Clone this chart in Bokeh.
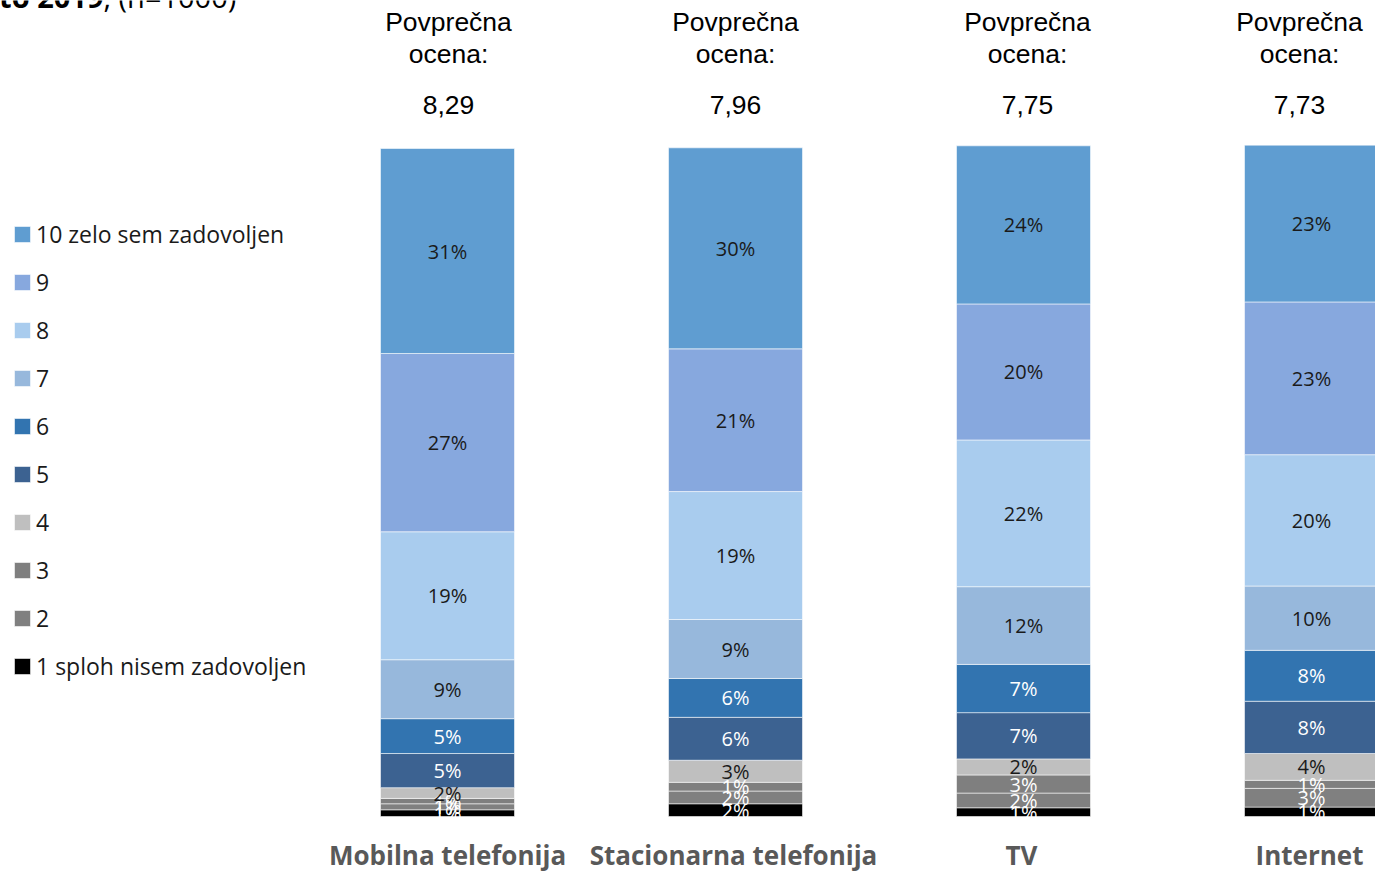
from bokeh.plotting import figure
from bokeh.models import Range1d, ColumnDataSource, Legend, LegendItem
from bokeh.core.properties import value
from bokeh.embed import file_html
from bokeh.resources import INLINE

# ---------------- data ----------------
categories = ["Mobilna telefonija", "Stacionarna telefonija", "TV", "Internet"]
average_scores = ["8,29", "7,96", "7,75", "7,73"]
levels = ["1", "2", "3", "4", "5", "6", "7", "8", "9", "10"]
legend_labels = ["1 sploh nisem zadovoljen", "2", "3", "4", "5", "6", "7", "8", "9",
                 "10 zelo sem zadovoljen"]

share_1 = [1.0, 1.9, 1.3, 1.4]
share_2 = [0.9, 1.9, 2.2, 2.8]
share_3 = [0.8, 1.3, 2.7, 1.2]
share_4 = [1.6, 3.3, 2.4, 4.0]
share_5 = [5.1, 6.4, 6.9, 7.8]
share_6 = [5.2, 5.8, 7.2, 7.6]
share_7 = [8.8, 8.8, 11.6, 9.6]
share_8 = [19.1, 19.1, 21.9, 19.6]
share_9 = [26.6, 21.3, 20.3, 22.8]
share_10 = [30.6, 30.0, 23.6, 23.4]
shares = [share_1, share_2, share_3, share_4, share_5, share_6, share_7, share_8, share_9, share_10]

title_bold = "leto 2019"
title_rest = ", (n=1000)"
header_lines = ["Povprečna", "ocena:"]

# ---------------- styles / layout ----------------
colors = ["#000000", "#808080", "#7F7F7F", "#BFBFBF", "#3C6291",
          "#3274B0", "#97B8DC", "#A9CCEE", "#87A8DE", "#5F9DD1"]
label_colors = ["#FFFFFF", "#FFFFFF", "#FFFFFF", "#1A1A1A", "#FFFFFF",
                "#FFFFFF", "#1A1A1A", "#1A1A1A", "#1A1A1A", "#1A1A1A"]

W, H = 1375, 872
PX_PER_PCT = 6.7
BASE_PY = 816
UNIT = 288.0
C0 = 447.0
BAR_W = 134.0 / UNIT


def px_x(px):
    return (px - C0) / UNIT


def px_y(py):
    return (BASE_PY - py) / PX_PER_PCT


p = figure(width=W, height=H, output_backend="svg", toolbar_location=None,
           x_range=Range1d(px_x(0), px_x(W)), y_range=Range1d(px_y(H), px_y(0)),
           x_axis_location=None, y_axis_location=None,
           min_border=0, min_border_left=0, min_border_right=0,
           min_border_top=0, min_border_bottom=0)
p.xgrid.visible = False
p.ygrid.visible = False
p.outline_line_color = None
p.background_fill_color = "white"

xs = list(range(len(categories)))
data = {"x": xs}
for lev, s in zip(levels, shares):
    data[lev] = s
src = ColumnDataSource(data)

renderers = p.vbar_stack(levels, x="x", width=BAR_W, color=colors, source=src,
                         line_color="white", line_alpha=0.55, line_width=1)

# percentage labels
lx, ly, lt, lc = [], [], [], []
for i in xs:
    cum = 0.0
    for k, s in enumerate(shares):
        v = s[i]
        lx.append(i)
        ly.append(cum + v / 2)
        lt.append(f"{round(v)}%")
        lc.append(label_colors[k])
        cum += v
p.text(x=lx, y=ly, text=lt, text_color=lc, text_align="center", text_baseline="middle",
       text_font=value("Open Sans"), text_font_size="20px")

# headers
head_off = [1, 0, 4, -12]
hx = [i + head_off[i] / UNIT for i in xs]
for py, txt in [(21, [header_lines[0]] * 4), (53, [header_lines[1]] * 4), (104, average_scores)]:
    p.text(x=hx, y=[px_y(py)] * 4, text=txt, text_align="center",
           text_baseline="middle", text_font=value("Liberation Sans"),
           text_font_size="26.5px", text_color="#000000")

# category labels
cat_off = [0, -2, -2, -2]
cx = [i + cat_off[i] / UNIT for i in xs]
p.text(x=cx, y=[px_y(854)] * 4, text=categories, text_align="center",
       text_baseline="middle", text_font=value("Open Sans"), text_font_size="26px",
       text_font_style="bold", text_color="#595959")

# title fragment (cut at top)
p.text(x=[px_x(103)], y=[px_y(-4)], text=[title_bold], text_align="right",
       text_baseline="alphabetic", text_font=value("Open Sans"), text_font_size="29px",
       text_font_style="bold", text_color="#000000")
p.text(x=[px_x(103)], y=[px_y(-4)], text=[title_rest], text_align="left",
       text_baseline="alphabetic", text_font=value("Open Sans"), text_font_size="29px",
       text_color="#000000")

# legend
items = [LegendItem(label=lab, renderers=[r]) for lab, r in zip(legend_labels, renderers)]
items = items[::-1]
legend = Legend(items=items, location=(12, 190), glyph_width=20, glyph_height=20,
                label_height=20, spacing=16, padding=0, margin=0,
                border_line_color=None, background_fill_alpha=0, label_standoff=4,
                label_text_font="Open Sans", label_text_font_size="23px",
                label_text_color="#1A1A1A")
p.add_layout(legend, "center")

open("out.html", "w").write(file_html(p, INLINE))
